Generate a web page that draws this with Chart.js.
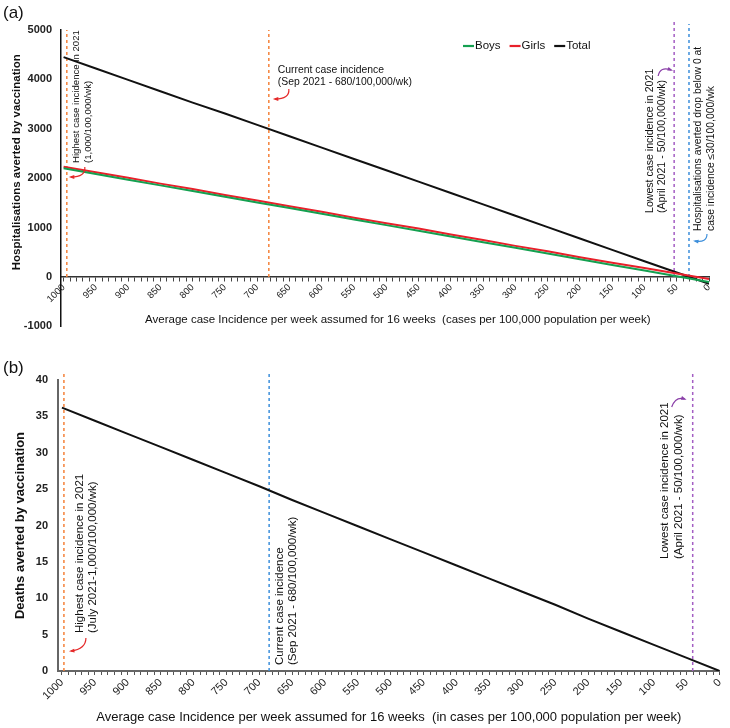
<!DOCTYPE html>
<html>
<head>
<meta charset="utf-8">
<script src="https://cdn.jsdelivr.net/npm/chart.js@4.4.1/dist/chart.umd.min.js"></script>
<style>
  body { margin: 0; background: #fff; }
  #wrapA { position: absolute; left: 0; top: 0; width: 730px; height: 342px; }
  #wrapB { position: absolute; left: 0; top: 330px; width: 730px; height: 398px; }
</style>
</head>
<body>
<div id="wrapA"><canvas id="chartA"></canvas></div>
<div id="wrapB"><canvas id="chartB"></canvas></div>
<script>
// x: average case incidence per week (per 100,000)
const incidence = [1000, 950, 900, 850, 800, 750, 700, 650, 600, 550, 500, 450, 400, 350, 300, 250, 200, 150, 100, 50, 0];

// (a) hospitalisations averted
const boys  = [2200, 2085, 1970, 1855, 1740, 1625, 1510, 1395, 1280, 1165, 1050, 935, 820, 705, 590, 475, 360, 245, 130, 15, -100];
const girls = [2230, 2120, 2010, 1890, 1780, 1660, 1550, 1430, 1320, 1200, 1090, 980, 860, 750, 630, 520, 400, 290, 180, 70, -40];
const total = [4450, 4220, 3990, 3760, 3530, 3310, 3080, 2850, 2620, 2390, 2160, 1930, 1700, 1470, 1240, 1010, 780, 550, 320, 90, -140];

// (b) deaths averted
const deaths = [36.2, 34.4, 32.6, 30.8, 29.0, 27.2, 25.4, 23.5, 21.7, 19.9, 18.1, 16.3, 14.5, 12.7, 10.9, 9.1, 7.2, 5.4, 3.6, 1.8, 0];

// dashed reference lines (x value, top value)
const refXA = [995, 682, 54, 31];
const refTopA = [5000, 5000, 5160, 5120];
const refColA = ['#f5823a', '#f5823a', '#a45ec4', '#3d8fdb'];
const refXB = [997, 685, 41];
const refTopB = [41.1, 41.1, 41.1];
const refColB = ['#f5823a', '#3d8fdb', '#a45ec4'];

const FONT = '"Liberation Sans", Arial, sans-serif';
Chart.defaults.font.family = FONT;
Chart.defaults.color = '#222';

function pts(xs, ys) {
    return xs.map((x, i) => ({ x: x, y: ys[i] }));
}

function refSets(xs, tops, cols) {
    return xs.map((x, i) => ({
        label: '',
        data: [{ x: x, y: 0 }, { x: x, y: tops[i] }],
        borderColor: cols[i],
        borderWidth: 1.5,
        borderDash: [3, 3],
        pointRadius: 0,
        clip: false
    }));
}

function vText(ctx, lines, x0, yBottom, gap, size, color) {
    ctx.save();
    ctx.font = size + 'px ' + FONT;
    ctx.fillStyle = color || '#111';
    ctx.textAlign = 'left';
    ctx.textBaseline = 'middle';
    lines.forEach((t, i) => {
        ctx.save();
        ctx.translate(x0 + i * gap, yBottom);
        ctx.rotate(-Math.PI / 2);
        ctx.fillText(t, 0, 0);
        ctx.restore();
    });
    ctx.restore();
}

function arrow(ctx, x0, y0, cx, cy, x1, y1, color) {
    ctx.save();
    ctx.strokeStyle = color;
    ctx.fillStyle = color;
    ctx.lineWidth = 1.2;
    ctx.beginPath();
    ctx.moveTo(x0, y0);
    ctx.quadraticCurveTo(cx, cy, x1, y1);
    ctx.stroke();
    const a = Math.atan2(y1 - cy, x1 - cx);
    ctx.beginPath();
    ctx.moveTo(x1 + Math.cos(a) * 2, y1 + Math.sin(a) * 2);
    ctx.lineTo(x1 - Math.cos(a - 0.5) * 4, y1 - Math.sin(a - 0.5) * 4);
    ctx.lineTo(x1 - Math.cos(a + 0.5) * 4, y1 - Math.sin(a + 0.5) * 4);
    ctx.closePath();
    ctx.fill();
    ctx.restore();
}

// tick helpers
const xTickCb = v => (v % 50 === 0 ? String(v) : '');
const plainCb = v => String(v);

// annotations for panel (a)
const notesA = {
    id: 'notesA',
    afterDatasetsDraw(chart) {
        const ctx = chart.ctx;
        const x = chart.scales.x;
        const p = refXA.map(v => x.getPixelForValue(v));

        ctx.save();
        ctx.font = '17px ' + FONT;
        ctx.fillStyle = '#111';
        ctx.textBaseline = 'middle';
        ctx.fillText('(a)', 3, 13);
        ctx.restore();

        vText(ctx, ['Highest case incidence in 2021', '(1,000/100,000/wk)'], p[0] + 10, 163, 12, 9.6);
        arrow(ctx, p[0] + 18, 167, p[0] + 19, 177, p[0] + 4, 177, '#e52a2a');

        ctx.save();
        ctx.font = '10.4px ' + FONT;
        ctx.fillStyle = '#111';
        ctx.textBaseline = 'middle';
        ctx.fillText('Current case incidence', p[1] + 9, 70);
        ctx.fillText('(Sep 2021 - 680/100,000/wk)', p[1] + 9, 82);
        ctx.restore();
        arrow(ctx, p[1] + 20, 89, p[1] + 21, 99, p[1] + 6, 99, '#e52a2a');

        vText(ctx, ['Lowest case incidence in 2021', '(April 2021 - 50/100,000/wk)'], p[2] - 24, 213, 12, 10.6);
        arrow(ctx, p[2] - 16, 76, p[2] - 14, 66, p[2] - 3, 70, '#8a3fa8');

        vText(ctx, ['Hospitalisations averted drop below 0 at', 'case incidence \u226430/100,000/wk'], p[3] + 9, 231, 13, 10.4);
        arrow(ctx, p[3] + 18, 234, p[3] + 18, 243, p[3] + 6, 241, '#3d8fdb');

        // legend
        ctx.save();
        ctx.font = '11.5px ' + FONT;
        ctx.textBaseline = 'middle';
        let lx = 463;
        chart.data.datasets.slice(0, 3).forEach(ds => {
            ctx.strokeStyle = ds.borderColor;
            ctx.lineWidth = 2.2;
            ctx.beginPath();
            ctx.moveTo(lx, 46);
            ctx.lineTo(lx + 11, 46);
            ctx.stroke();
            ctx.fillStyle = '#111';
            ctx.fillText(ds.label, lx + 12, 46);
            lx += 12 + ctx.measureText(ds.label).width + 9;
        });
        ctx.restore();
    }
};

// annotations for panel (b)
const notesB = {
    id: 'notesB',
    afterDatasetsDraw(chart) {
        const ctx = chart.ctx;
        const x = chart.scales.x;
        const p = refXB.map(v => x.getPixelForValue(v));

        ctx.save();
        ctx.font = '17px ' + FONT;
        ctx.fillStyle = '#111';
        ctx.textBaseline = 'middle';
        ctx.fillText('(b)', 3, 38);
        ctx.restore();

        vText(ctx, ['Highest case incidence in 2021', '(July 2021-1,000/100,000/wk)'], p[0] + 16, 303, 13, 11.5);
        arrow(ctx, p[0] + 22, 308, p[0] + 22, 319, p[0] + 7, 321, '#e52a2a');

        vText(ctx, ['Current case incidence', '(Sep 2021 - 680/100,000/wk)'], p[1] + 11, 335, 13, 11.5);

        vText(ctx, ['Lowest case incidence in 2021', '(April 2021 - 50/100,000/wk)'], p[2] - 28, 229, 14, 11.5);
        arrow(ctx, p[2] - 21, 77, p[2] - 17, 66, p[2] - 8, 69, '#8a3fa8');
    }
};

new Chart(document.getElementById('chartA'), {
    type: 'line',
    data: {
        datasets: [
            { label: 'Boys', data: pts(incidence, boys), borderColor: '#14a050', borderWidth: 2, pointRadius: 0 },
            { label: 'Girls', data: pts(incidence, girls), borderColor: '#e8202a', borderWidth: 2, pointRadius: 0 },
            { label: 'Total', data: pts(incidence, total), borderColor: '#111', borderWidth: 2, pointRadius: 0 }
        ].concat(refSets(refXA, refTopA, refColA))
    },
    options: {
        responsive: true,
        maintainAspectRatio: false,
        animation: false,
        layout: { padding: { top: 30, right: 21, bottom: 5, left: 0 } },
        scales: {
            x: {
                type: 'linear',
                reverse: true,
                min: 0,
                max: 1004,
                position: { y: 0 },
                afterFit: s => { s.height = 52; },
                grid: { display: true, drawOnChartArea: false, drawTicks: true, tickLength: 4, color: '#444' },
                border: { display: true, color: '#333', width: 1.5 },
                ticks: {
                    stepSize: 10, includeBounds: false, autoSkip: false,
                    minRotation: 45, maxRotation: 45, padding: 1,
                    font: { size: 9.5 }, callback: xTickCb
                },
                title: {
                    display: true,
                    text: '        Average case Incidence per week assumed for 16 weeks  (cases per 100,000 population per week)',
                    font: { size: 11.5 }, color: '#111', padding: { top: 0, bottom: 2 }
                }
            },
            y: {
                min: -1000,
                max: 5000,
                afterFit: s => { s.width = 61; },
                grid: { display: false, drawTicks: false },
                border: { display: true, color: '#111', width: 1.5 },
                ticks: { stepSize: 1000, padding: 9, font: { size: 11, weight: 'bold' }, callback: plainCb },
                title: {
                    display: true,
                    text: '          Hospitalisations averted by vaccination',
                    font: { size: 11.5, weight: 'bold' }, color: '#111', padding: { top: 10, bottom: 0 }
                }
            }
        },
        plugins: { legend: { display: false }, tooltip: { enabled: false } }
    },
    plugins: [notesA]
});

new Chart(document.getElementById('chartB'), {
    type: 'line',
    data: {
        datasets: [
            { label: 'Deaths', data: pts(incidence, deaths), borderColor: '#111', borderWidth: 2, pointRadius: 0 }
        ].concat(refSets(refXB, refTopB, refColB))
    },
    options: {
        responsive: true,
        maintainAspectRatio: false,
        animation: false,
        layout: { padding: { top: 50, right: 10, bottom: 0, left: 0 } },
        scales: {
            x: {
                type: 'linear',
                reverse: true,
                min: 0,
                max: 1006,
                afterFit: s => { s.height = 57; },
                grid: { display: true, drawOnChartArea: false, drawTicks: true, tickLength: 4, color: '#555' },
                border: { display: true, color: '#666', width: 2 },
                ticks: {
                    stepSize: 10, includeBounds: false, autoSkip: false,
                    minRotation: 45, maxRotation: 45, padding: 1,
                    font: { size: 11 }, callback: xTickCb
                },
                title: {
                    display: true,
                    text: 'Average case Incidence per week assumed for 16 weeks  (in cases per 100,000 population per week)',
                    font: { size: 13 }, color: '#111', padding: { top: 0, bottom: 3 }
                }
            },
            y: {
                min: 0,
                max: 40,
                afterFit: s => { s.width = 58; },
                grid: { display: false, drawTicks: false },
                border: { display: true, color: '#666', width: 2 },
                ticks: { stepSize: 5, padding: 10, font: { size: 11, weight: 'bold' }, callback: plainCb },
                title: {
                    display: true,
                    text: 'Deaths averted by vaccination',
                    font: { size: 13, weight: 'bold' }, color: '#111', padding: { top: 13, bottom: 0 }
                }
            }
        },
        plugins: { legend: { display: false }, tooltip: { enabled: false } }
    },
    plugins: [notesB]
});
</script>
</body>
</html>
